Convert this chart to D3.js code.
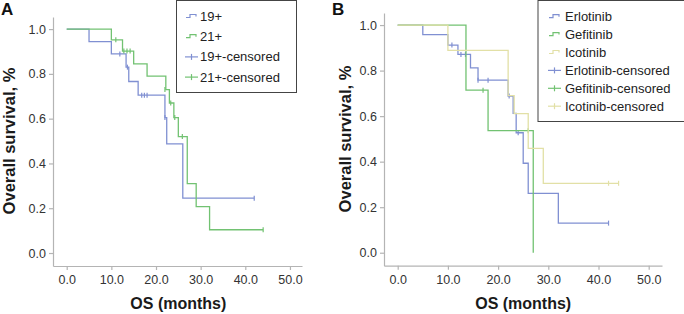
<!DOCTYPE html>
<html>
<head>
<meta charset="utf-8">
<script src="https://cdn.jsdelivr.net/npm/d3@7"></script>
<style>
  body { margin: 0; background: #fff; }
  text { font-family: "Liberation Sans", Arial, sans-serif; }
</style>
</head>
<body>
<div id="chart"></div>
<script>
// tick values
var timeTicks = [0, 10, 20, 30, 40, 50];
var survTicks = [0, 0.2, 0.4, 0.6, 0.8, 1.0];

// panel A : [months, survival]
var mut19Steps = [[0, 1], [5, 0.944], [10, 0.889], [13.3, 0.83], [13.9, 0.766], [16, 0.705],
                  [22, 0.605], [22.4, 0.487], [26, 0.245], [42, 0.245]];
var mut19Cens = [[11.9, 0.889], [13.6, 0.83], [16.8, 0.705], [17.4, 0.705], [18, 0.705],
                 [22, 0.605], [42, 0.245]];
var mut21Steps = [[0, 1], [10, 0.952], [12.5, 0.902], [15, 0.845], [18, 0.79], [22.2, 0.73],
                  [23, 0.67], [24, 0.605], [25, 0.52], [27, 0.31], [29, 0.207], [32, 0.104], [44, 0.104]];
var mut21Cens = [[11, 0.952], [12.8, 0.902], [13.5, 0.902], [14.2, 0.902], [22, 0.73],
                 [23.3, 0.67], [24.2, 0.605], [25.9, 0.52], [44, 0.104]];

// panel B
var erloSteps = [[0, 1], [5, 0.958], [10, 0.912], [12, 0.871], [14.5, 0.812], [16, 0.758],
                 [22, 0.688], [23, 0.612], [23.6, 0.527], [25, 0.393], [26, 0.261], [32, 0.13], [42, 0.13]];
var erloCens = [[10.8, 0.912], [12.6, 0.871], [13.5, 0.871], [16, 0.758], [18, 0.758],
                [22.2, 0.688], [24, 0.527], [42, 0.13]];
var gefiSteps = [[0, 1], [13.6, 0.714], [18, 0.536], [27, 0]];
var gefiCens = [[17, 0.714], [26, 0.536]];
var icoSteps = [[0, 1], [10, 0.889], [22, 0.69], [23.2, 0.611], [26, 0.458], [29, 0.305], [44, 0.305]];
var icoCens = [[42, 0.305], [44, 0.305]];

var legendA = ['19+', '21+', '19+-censored', '21+-censored'];
var legendB = ['Erlotinib', 'Gefitinib', 'Icotinib', 'Erlotinib-censored', 'Gefitinib-censored', 'Icotinib-censored'];

var blue = '#8090d2', green = '#72c272', pale = '#e2e0a6';

var svg = d3.select('#chart').append('svg')
  .attr('width', 684).attr('height', 314);

function drawPanel(p) {
  var x = d3.scaleLinear().domain(p.xDom).range(p.xRange);
  var y = d3.scaleLinear().domain(p.yDom).range(p.yRange);
  var g = svg.append('g');

  var xa = g.append('g')
    .attr('transform', 'translate(0,' + p.yRange[0] + ')')
    .call(d3.axisBottom(x).tickValues(timeTicks).tickFormat(d3.format('.1f')).tickSize(4).tickSizeOuter(0));
  var ya = g.append('g')
    .attr('transform', 'translate(' + p.xRange[0] + ',0)')
    .call(d3.axisLeft(y).tickValues(survTicks).tickFormat(d3.format('.1f')).tickSize(4).tickSizeOuter(0));
  [xa, ya].forEach(a => {
    a.selectAll('path, line').attr('stroke', '#b4b4b4').attr('stroke-width', 1.2);
    a.selectAll('text').attr('fill', '#333').style('font-size', '12.5px');
  });
  xa.selectAll('text').attr('dy', '0.9em');

  g.append('text')
    .attr('x', (x(0) + x(50)) / 2).attr('y', 305)
    .attr('text-anchor', 'middle').attr('dominant-baseline', 'middle')
    .style('font-weight', 'bold').style('font-size', '16px').attr('fill', '#1a1a1a')
    .text('OS (months)');
  g.append('text')
    .attr('transform', 'translate(' + p.yTitleX + ',' + p.yTitleY + ') rotate(-90)')
    .attr('text-anchor', 'middle')
    .style('font-weight', 'bold').style('font-size', '16.5px').attr('fill', '#1a1a1a')
    .text('Overall survival, %');
  g.append('text')
    .attr('x', p.labelX).attr('y', 15)
    .style('font-weight', 'bold').style('font-size', '17px').attr('fill', '#111')
    .text(p.label);

  var line = d3.line().x(d => x(d[0])).y(d => y(d[1])).curve(d3.curveStepAfter);
  p.series.forEach(s => {
    g.append('path').datum(s.steps)
      .attr('fill', 'none').attr('stroke', s.color).attr('stroke-width', 1.3)
      .attr('d', line);
    g.selectAll(null).data(s.cens).enter().append('line')
      .attr('x1', d => x(d[0])).attr('x2', d => x(d[0]))
      .attr('y1', d => y(d[1]) - 2.5).attr('y2', d => y(d[1]) + 2.5)
      .attr('stroke', s.color).attr('stroke-width', 1.2);
  });

  // legend
  var lg = g.append('g');
  lg.append('rect')
    .attr('x', p.leg.x).attr('y', p.leg.y).attr('width', p.leg.w).attr('height', p.leg.h)
    .attr('fill', '#fff').attr('stroke', '#444').attr('stroke-width', 1);
  var n = p.series.length;
  p.legendNames.forEach((name, i) => {
    var s = p.series[i % n];
    var cy = p.leg.first + i * p.leg.step;
    var sx = p.leg.symX;
    if (i < n) {
      lg.append('path')
        .attr('d', 'M' + sx + ',' + (cy + 1) + 'H' + (sx + 4) + 'V' + (cy - 2) + 'H' + (sx + 10) + 'V' + cy)
        .attr('fill', 'none').attr('stroke', s.color).attr('stroke-width', 1.2);
    } else {
      lg.append('line').attr('x1', sx - 1).attr('x2', sx + 12).attr('y1', cy).attr('y2', cy)
        .attr('stroke', s.color).attr('stroke-width', 1.2);
      lg.append('line').attr('x1', sx + 5.5).attr('x2', sx + 5.5).attr('y1', cy - 3).attr('y2', cy + 3)
        .attr('stroke', s.color).attr('stroke-width', 1.2);
    }
    lg.append('text')
      .attr('x', p.leg.textX).attr('y', cy).attr('dy', '0.35em')
      .style('font-size', '13px').attr('fill', '#222')
      .text(name);
  });
}

drawPanel({
  label: 'A', labelX: 1,
  xDom: [-3.07, 52.7], xRange: [53, 302],
  yDom: [-0.058, 1.054], yRange: [266, 17],
  yTitleX: 15, yTitleY: 141,
  series: [
    { steps: mut19Steps, cens: mut19Cens, color: blue },
    { steps: mut21Steps, cens: mut21Cens, color: green }
  ],
  legendNames: legendA,
  leg: { x: 176.5, y: 0.5, w: 120, h: 92, first: 16.5, step: 20.2, symX: 186, textX: 200 }
});

drawPanel({
  label: 'B', labelX: 332,
  xDom: [-2.73, 52.65], xRange: [384, 662],
  yDom: [-0.057, 1.053], yRange: [265.7, 13],
  yTitleX: 351, yTitleY: 139,
  series: [
    { steps: erloSteps, cens: erloCens, color: blue },
    { steps: gefiSteps, cens: gefiCens, color: green },
    { steps: icoSteps, cens: icoCens, color: pale }
  ],
  legendNames: legendB,
  leg: { x: 538, y: 0.5, w: 150, h: 121, first: 16.7, step: 17.9, symX: 549, textX: 565 }
});
</script>
</body>
</html>
